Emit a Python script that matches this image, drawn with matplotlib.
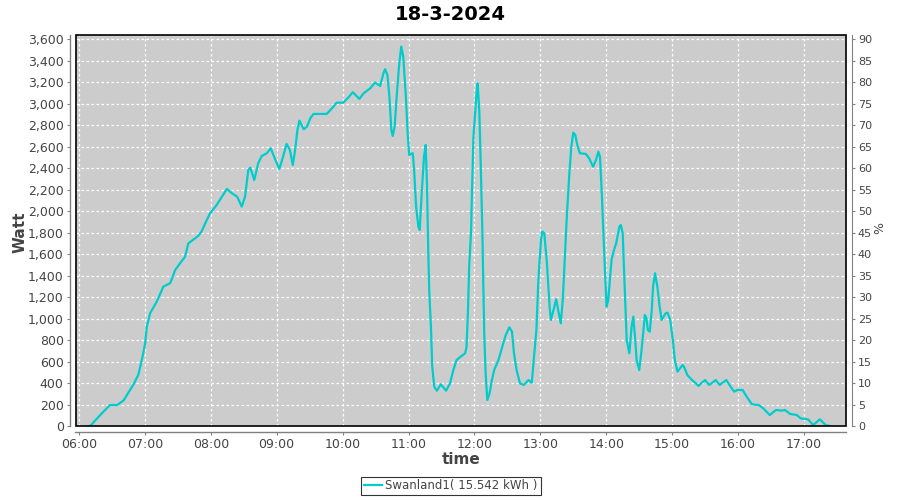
import matplotlib
matplotlib.use("Agg")
import matplotlib.pyplot as plt
from matplotlib.ticker import FuncFormatter, MultipleLocator
from matplotlib.patches import Rectangle

# ---- data (decimal hours, Watt) ----
hours = [6.15, 6.17, 6.32, 6.47, 6.58, 6.68, 6.83, 6.90, 6.955, 7.005, 7.03, 7.08, 7.18, 7.28,
         7.385, 7.46, 7.54, 7.61, 7.66, 7.74, 7.81, 7.86, 7.94, 7.99, 8.09, 8.17, 8.245, 8.32,
         8.40, 8.47, 8.52, 8.57, 8.60, 8.66, 8.72, 8.775, 8.85, 8.91, 8.98, 9.04, 9.09, 9.15,
         9.20, 9.245, 9.28, 9.315, 9.345, 9.41, 9.46, 9.51, 9.56, 9.76, 9.84, 9.91, 10.01,
         10.09, 10.155, 10.255, 10.32, 10.42, 10.49, 10.57, 10.62, 10.645, 10.68, 10.71, 10.74,
         10.76, 10.79, 10.82, 10.86, 10.89, 10.92, 10.96, 10.99, 11.01, 11.065, 11.085, 11.115,
         11.15, 11.17, 11.20, 11.235, 11.26, 11.28, 11.30, 11.315, 11.34, 11.36, 11.39, 11.43,
         11.49, 11.57, 11.63, 11.68, 11.73, 11.79, 11.86, 11.88, 11.90, 11.92, 11.95, 11.96,
         11.985, 12.01, 12.036, 12.05, 12.075, 12.095, 12.12, 12.135, 12.15, 12.17, 12.195,
         12.23, 12.265, 12.30, 12.365, 12.415, 12.475, 12.53, 12.57, 12.60, 12.64, 12.69, 12.75,
         12.82, 12.87, 12.895, 12.94, 12.97, 13.01, 13.03, 13.06, 13.10, 13.14, 13.16, 13.20,
         13.24, 13.27, 13.31, 13.34, 13.375, 13.40, 13.44, 13.47, 13.50, 13.53, 13.56, 13.60,
         13.69, 13.74, 13.80, 13.845, 13.88, 13.905, 13.93, 13.955, 13.98, 14.005, 14.03, 14.06,
         14.08, 14.11, 14.15, 14.20, 14.22, 14.25, 14.26, 14.285, 14.31, 14.35, 14.385, 14.41,
         14.44, 14.46, 14.50, 14.53, 14.56, 14.585, 14.61, 14.63, 14.66, 14.69, 14.71, 14.74,
         14.775, 14.81, 14.84, 14.87, 14.90, 14.93, 14.97, 15.01, 15.04, 15.08, 15.12, 15.16,
         15.19, 15.23, 15.30, 15.35, 15.40, 15.44, 15.50, 15.56, 15.60, 15.66, 15.72, 15.82,
         15.88, 15.94, 15.99, 16.07, 16.13, 16.21, 16.31, 16.38, 16.48, 16.575, 16.66, 16.71,
         16.79, 16.89, 16.95, 17.06, 17.14, 17.24, 17.33, 17.39]
watt = [0, 0, 100, 195, 195, 240, 390, 475, 615, 770, 925, 1050, 1157, 1297,
        1330, 1452, 1520, 1576, 1700, 1738, 1770, 1810, 1918, 1980, 2058, 2135, 2207, 2167,
        2135, 2042, 2135, 2384, 2405, 2290, 2446, 2514, 2539, 2585, 2477, 2393, 2492, 2626,
        2570, 2430, 2570, 2756, 2843, 2762, 2787, 2865, 2905, 2905, 2958, 3010, 3010,
        3060, 3107, 3045, 3098, 3144, 3197, 3166, 3284, 3321, 3268, 3066, 2756,
        2700, 2787, 3066, 3377, 3532, 3439, 3066, 2694, 2523, 2539, 2384, 2042,
        1856, 1825, 2167, 2507, 2616, 2260, 1608, 1251, 925, 552, 366, 329,
        388, 329, 398, 521, 615, 645, 677, 738, 1034, 1483, 1825, 2104,
        2694, 2911, 3128, 3191, 2911, 2446, 1825, 1297, 831, 491, 242,
        304, 428, 521, 615, 723, 847, 919, 878, 677, 521, 398, 382,
        428, 403, 584, 894, 1359, 1732, 1810, 1794, 1515, 1111, 987, 1080,
        1180, 1080, 956, 1173, 1608, 1930, 2353, 2600, 2731, 2709, 2616, 2539,
        2533, 2492, 2414, 2477, 2554, 2507, 2197, 1825, 1452, 1111, 1173, 1390,
        1545, 1623, 1700, 1856, 1871, 1794, 1608, 1200, 801, 677, 925, 1018,
        801, 615, 521, 677, 863, 1034, 1003, 894, 878, 1080, 1297, 1422,
        1297, 1111, 987, 1018, 1049, 1055, 987, 801, 615, 506, 537, 568,
        537, 475, 428, 403, 372, 398, 428, 382, 398, 428, 382, 428,
        372, 320, 335, 335, 273, 202, 196, 165, 102, 149, 143, 149,
        112, 102, 71, 62, 9, 62, 9, 0]

title = "18-3-2024"
series_label = "Swanland1( 15.542 kWh )"
x_label = "time"
y_label = "Watt"
y2_label = "%"

# ---- figure ----
fig = plt.figure(figsize=(9, 5), dpi=100)
fig.patch.set_facecolor("white")
ax = fig.add_axes([75.5 / 900, 1 - 426 / 500, (846 - 75.5) / 900, (426 - 35.3) / 500])
ax.set_facecolor("#CCCCCC")

line, = ax.plot(hours, watt, color="#00CCCC", lw=1.6, label=series_label, zorder=3)

xmin, xmax = 5.948, 17.637
ymin, ymax = 0, 3637
ax.set_xlim(xmin, xmax)
ax.set_ylim(ymin, ymax)

ax.xaxis.set_major_locator(MultipleLocator(1))
ax.xaxis.set_major_formatter(FuncFormatter(lambda v, p: f"{int(round(v)):02d}:00"))
ax.yaxis.set_major_locator(MultipleLocator(200))
ax.yaxis.set_major_formatter(FuncFormatter(lambda v, p: f"{int(v):,}"))

ax.grid(True, color="white", linestyle=(0, (2, 2)), linewidth=0.9)
ax.set_axisbelow(True)

gray = "#808080"
tick_color = "#444444"
for side in ("top", "right"):
    ax.spines[side].set_visible(False)
for side in ("left", "bottom"):
    ax.spines[side].set_position(("outward", 4))
    ax.spines[side].set_color(gray)
    ax.spines[side].set_linewidth(1.0)
ax.tick_params(axis="both", direction="out", length=2.5, width=0.8, color=gray,
               labelsize=9, labelcolor=tick_color, pad=2)

ax2 = ax.twinx()
ax2.set_ylim(ymin / 40, ymax / 40)
ax2.yaxis.set_major_locator(MultipleLocator(5))
ax2.yaxis.set_major_formatter(FuncFormatter(lambda v, p: f"{int(v)}"))
for side in ("top", "left", "bottom"):
    ax2.spines[side].set_visible(False)
ax2.spines["right"].set_position(("outward", 4))
ax2.spines["right"].set_color(gray)
ax2.tick_params(axis="y", direction="out", length=2.5, width=0.8, color=gray,
                labelsize=8, labelcolor=tick_color, pad=2)

# plot frame
ax.add_patch(Rectangle((0, 0), 1, 1, transform=ax.transAxes, fill=False,
                       edgecolor="black", lw=1.2, zorder=5, clip_on=False))

fig.text(0.5, 1 - 14 / 500, title, ha="center", va="center", fontsize=14, fontweight="bold")
fig.text(20 / 900, 1 - 232 / 500, y_label, ha="center", va="center", fontsize=11,
         rotation=90, color="#444444", fontweight="bold")
fig.text(461 / 900, 1 - 459 / 500, x_label, ha="center", va="center", fontsize=11,
         color="#444444", fontweight="bold")
fig.text(880 / 900, 1 - 228 / 500, y2_label, ha="center", va="center", fontsize=9,
         rotation=90, color="#444444")

leg = fig.legend(handles=[line], loc="center", bbox_to_anchor=(451 / 900, 1 - 486 / 500),
                 frameon=True, fancybox=False, fontsize=8.5, handlelength=1.5,
                 handletextpad=0.3, borderpad=0.25, borderaxespad=0)
leg.get_frame().set_edgecolor("black")
leg.get_frame().set_linewidth(0.8)
for t in leg.get_texts():
    t.set_color("#444444")

fig.savefig("out.png", dpi=100)
